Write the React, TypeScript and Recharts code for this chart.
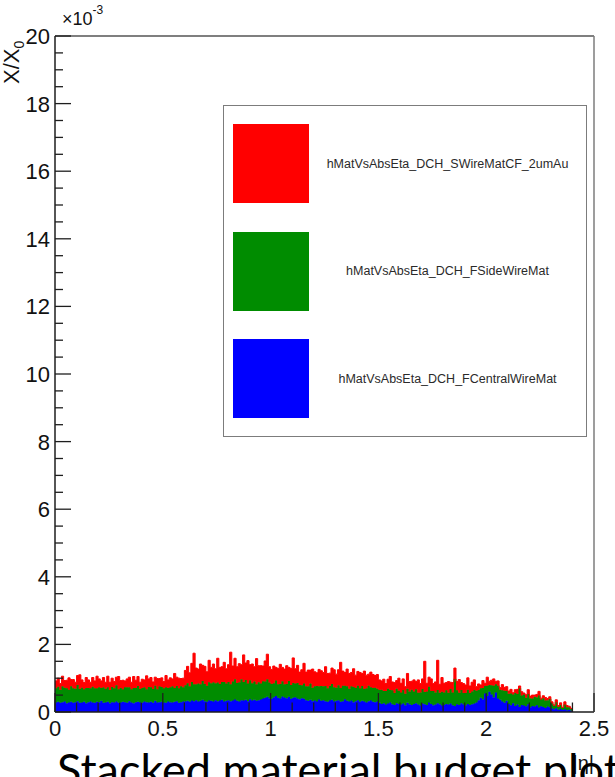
import React from 'react';
import { AreaChart, Area, XAxis, YAxis, Legend } from 'recharts';

// |eta| binning: 240 bins of 0.01 starting at 0
const BIN_WIDTH = 0.01;

// per-bin material, in units of 1e-3 X/X0
const centralWire = [
  0.28, 0.30, 0.27, 0.29, 0.31, 0.26, 0.28, 0.30, 0.27, 0.29,
  0.32, 0.27, 0.28, 0.30, 0.26, 0.29, 0.31, 0.28, 0.27, 0.30,
  0.29, 0.33, 0.27, 0.28, 0.30, 0.26, 0.29, 0.28, 0.31, 0.27,
  0.28, 0.30, 0.29, 0.27, 0.32, 0.28, 0.26, 0.29, 0.30, 0.28,
  0.27, 0.31, 0.29, 0.28, 0.30, 0.27, 0.33, 0.28, 0.29, 0.30,
  0.28, 0.27, 0.31, 0.29, 0.28, 0.30, 0.32, 0.27, 0.29, 0.31,
  0.31, 0.33, 0.30, 0.34, 0.32, 0.35, 0.31, 0.33, 0.36, 0.32,
  0.30, 0.34, 0.33, 0.31, 0.35, 0.32, 0.34, 0.36, 0.31, 0.33,
  0.35, 0.32, 0.34, 0.37, 0.33, 0.31, 0.35, 0.34, 0.36, 0.32,
  0.38, 0.34, 0.36, 0.33, 0.35, 0.37, 0.40, 0.42, 0.45, 0.41,
  0.39, 0.44, 0.47, 0.42, 0.40, 0.46, 0.43, 0.41, 0.45, 0.39,
  0.42, 0.44, 0.40, 0.38, 0.41, 0.39, 0.35, 0.33, 0.36, 0.32,
  0.34, 0.31, 0.37, 0.33, 0.35, 0.32, 0.30, 0.34, 0.36, 0.31,
  0.33, 0.35, 0.30, 0.32, 0.38, 0.33, 0.31, 0.34, 0.29, 0.32,
  0.35, 0.30, 0.33, 0.31, 0.28, 0.32, 0.34, 0.30, 0.29, 0.31,
  0.27, 0.24, 0.26, 0.22, 0.25, 0.28, 0.23, 0.21, 0.26, 0.24,
  0.22, 0.25, 0.20, 0.27, 0.23, 0.21, 0.24, 0.26, 0.22, 0.19,
  0.25, 0.23, 0.21, 0.28, 0.24, 0.20, 0.22, 0.26, 0.23, 0.19,
  0.21, 0.24, 0.22, 0.25, 0.20, 0.18, 0.23, 0.21, 0.26, 0.22,
  0.19, 0.24, 0.21, 0.23, 0.25, 0.28, 0.35, 0.42, 0.38, 0.55,
  0.47, 0.60, 0.52, 0.44, 0.58, 0.40, 0.36, 0.31, 0.27, 0.33,
  0.24, 0.20, 0.26, 0.18, 0.22, 0.15, 0.21, 0.19, 0.17, 0.23,
  0.14, 0.18, 0.16, 0.20, 0.13, 0.17, 0.15, 0.12, 0.16, 0.14,
  0.10, 0.08, 0.11, 0.07, 0.09, 0.06, 0.08, 0.05, 0.07, 0.04,
];

const sideWire = [
  0.42, 0.45, 0.39, 0.47, 0.41, 0.44, 0.38, 0.46, 0.43, 0.40,
  0.48, 0.41, 0.44, 0.37, 0.45, 0.42, 0.39, 0.47, 0.43, 0.40,
  0.44, 0.38, 0.46, 0.41, 0.43, 0.39, 0.45, 0.42, 0.48, 0.40,
  0.43, 0.37, 0.44, 0.46, 0.41, 0.39, 0.45, 0.42, 0.47, 0.40,
  0.44, 0.42, 0.38, 0.46, 0.43, 0.41, 0.45, 0.39, 0.47, 0.44,
  0.42, 0.46, 0.40, 0.44, 0.48, 0.41, 0.45, 0.43, 0.47, 0.42,
  0.48, 0.52, 0.46, 0.55, 0.50, 0.47, 0.53, 0.49, 0.56, 0.51,
  0.48, 0.54, 0.52, 0.57, 0.50, 0.55, 0.49, 0.53, 0.58, 0.51,
  0.54, 0.50, 0.56, 0.60, 0.53, 0.57, 0.62, 0.55, 0.59, 0.52,
  0.56, 0.51, 0.54, 0.49, 0.53, 0.47, 0.51, 0.48, 0.52, 0.46,
  0.44, 0.41, 0.46, 0.40, 0.43, 0.45, 0.39, 0.42, 0.47, 0.41,
  0.44, 0.40, 0.46, 0.42, 0.38, 0.45, 0.41, 0.43, 0.48, 0.40,
  0.42, 0.46, 0.39, 0.44, 0.41, 0.45, 0.40, 0.43, 0.47, 0.42,
  0.39, 0.44, 0.41, 0.46, 0.40, 0.43, 0.38, 0.42, 0.45, 0.39,
  0.43, 0.40, 0.44, 0.37, 0.42, 0.46, 0.39, 0.41, 0.43, 0.38,
  0.38, 0.42, 0.36, 0.40, 0.44, 0.37, 0.41, 0.35, 0.43, 0.39,
  0.36, 0.40, 0.34, 0.42, 0.38, 0.45, 0.37, 0.41, 0.35, 0.39,
  0.43, 0.36, 0.40, 0.47, 0.38, 0.42, 0.36, 0.39, 0.34, 0.41,
  0.37, 0.40, 0.35, 0.43, 0.38, 0.80, 0.41, 0.36, 0.39, 0.34,
  0.37, 0.42, 0.35, 0.38, 0.40, 0.35, 0.30, 0.28, 0.33, 0.22,
  0.31, 0.20, 0.27, 0.34, 0.24, 0.38, 0.30, 0.33, 0.36, 0.29,
  0.30, 0.35, 0.26, 0.38, 0.31, 0.55, 0.28, 0.33, 0.25, 0.30,
  0.27, 0.22, 0.29, 0.24, 0.36, 0.20, 0.26, 0.22, 0.19, 0.25,
  0.15, 0.10, 0.18, 0.08, 0.12, 0.06, 0.14, 0.09, 0.07, 0.05,
];

const sWireCF = [
  0.22, 0.25, 0.18, 0.30, 0.21, 0.24, 0.35, 0.20, 0.26, 0.19,
  0.28, 0.42, 0.23, 0.20, 0.31, 0.24, 0.18, 0.27, 0.22, 0.36,
  0.25, 0.21, 0.29, 0.19, 0.33, 0.23, 0.26, 0.20, 0.24, 0.38,
  0.22, 0.27, 0.19, 0.25, 0.30, 0.21, 0.34, 0.23, 0.28, 0.20,
  0.26, 0.22, 0.40, 0.24, 0.29, 0.21, 0.25, 0.32, 0.23, 0.27,
  0.20, 0.35, 0.24, 0.28, 0.22, 0.43, 0.26, 0.30, 0.23, 0.27,
  0.44, 0.50, 0.40, 0.55, 0.92, 0.48, 0.43, 0.60, 0.46, 0.52,
  0.41, 0.65, 0.47, 0.54, 0.43, 0.72, 0.49, 0.45, 0.58, 0.44,
  0.51, 0.95, 0.46, 0.62, 0.48, 0.55, 0.43, 0.80, 0.50, 0.68,
  0.46, 0.57, 0.44, 0.76, 0.49, 0.53, 0.45, 0.61, 0.74, 0.47,
  0.43, 0.51, 0.39, 0.47, 0.58, 0.41, 0.45, 0.54, 0.40, 0.49,
  0.74, 0.44, 0.52, 0.38, 0.46, 0.60, 0.42, 0.48, 0.40, 0.55,
  0.43, 0.39, 0.50, 0.45, 0.41, 0.57, 0.44, 0.38, 0.47, 0.52,
  0.40, 0.46, 0.76, 0.43, 0.39, 0.51, 0.45, 0.41, 0.54, 0.38,
  0.42, 0.47, 0.37, 0.53, 0.39, 0.34, 0.45, 0.40, 0.36, 0.42,
  0.30, 0.26, 0.35, 0.22, 0.28, 0.40, 0.25, 0.31, 0.24, 0.37,
  0.27, 0.33, 0.21, 0.45, 0.29, 0.25, 0.34, 0.23, 0.38, 0.26,
  0.30, 0.91, 0.24, 0.28, 0.36, 0.22, 0.31, 0.88, 0.25, 0.42,
  0.27, 0.23, 0.33, 0.20, 0.29, 0.32, 0.26, 0.39, 0.22, 0.28,
  0.24, 0.35, 0.21, 0.27, 0.30, 0.12, 0.18, 0.10, 0.22, 0.08,
  0.25, 0.11, 0.15, 0.20, 0.09, 0.14, 0.06, 0.17, 0.10, 0.13,
  0.08, 0.12, 0.05, 0.10, 0.14, 0.07, 0.11, 0.04, 0.09, 0.13,
  0.06, 0.10, 0.05, 0.08, 0.12, 0.04, 0.07, 0.09, 0.05, 0.06,
  0.05, 0.03, 0.07, 0.04, 0.06, 0.02, 0.08, 0.05, 0.03, 0.02,
];

const xTicks = Array.from({ length: 26 }, (_, i) => +(i * 0.1).toFixed(1));
const yTicks = Array.from({ length: 41 }, (_, i) => i * 0.5);

// one row per bin lower edge, plus the closing upper edge of the last bin
const data = centralWire.map((c, i) => ({
  eta: +(i * BIN_WIDTH).toFixed(2),
  central: c,
  side: sideWire[i],
  swire: sWireCF[i],
}));
data.push({ eta: +(centralWire.length * BIN_WIDTH).toFixed(2), central: 0, side: 0, swire: 0 });

const FONT = '"Liberation Sans", Arial, Helvetica, sans-serif';
const AXIS = '#1e1e1e';

function YTick({ x, y, payload }: any) {
  const v = payload.value as number;
  const major = v % 2 === 0;
  return (
    <g>
      <line x1={x} x2={x + (major ? 16 : 8)} y1={y} y2={y} stroke={AXIS} strokeWidth={1.3} />
      {major && (
        <text x={x - 5} y={y + 8} textAnchor="end" fontSize={22} fontFamily={FONT} fill="#111">
          {v}
        </text>
      )}
    </g>
  );
}

function XTick({ x, y, payload }: any) {
  const v = payload.value as number;
  const major = Math.abs(v * 2 - Math.round(v * 2)) < 1e-6;
  return (
    <g>
      <line x1={x} x2={x} y1={y} y2={y - (major ? 19 : 9.5)} stroke={AXIS} strokeWidth={1.3} />
      {major && (
        <text x={x} y={y + 24} textAnchor="middle" fontSize={22} fontFamily={FONT} fill="#111">
          {String(Math.round(v * 10) / 10)}
        </text>
      )}
    </g>
  );
}

function StackLegend({ payload }: any) {
  const rows = [...(payload ?? [])].reverse();
  return (
    <div
      style={{
        width: 364,
        height: 332,
        boxSizing: 'border-box',
        border: '1.5px solid #7c7c7c',
        background: '#fff',
        paddingTop: 18,
      }}
    >
      {rows.map((entry: any) => (
        <div key={entry.value} style={{ display: 'flex', alignItems: 'center', height: 79, marginBottom: 28.5 }}>
          <div style={{ width: 76, height: 79, marginLeft: 9, background: entry.color }} />
          <div style={{ flex: 1, textAlign: 'center', fontSize: 12.5, color: '#2a2a2a', fontFamily: FONT }}>
            {entry.value}
          </div>
        </div>
      ))}
    </div>
  );
}

export default function App() {
  return (
    <div style={{ position: 'absolute', left: 0, top: 0, width: 615, height: 777, overflow: 'hidden', background: '#fff' }}>
      <AreaChart width={615} height={777} data={data} margin={{ top: 35, right: 20, bottom: 64, left: 54 }}>
        <Area
          type="stepAfter"
          dataKey="central"
          stackId="mat"
          name="hMatVsAbsEta_DCH_FCentralWireMat"
          fill="#0000ff"
          stroke="#0000ff"
          strokeWidth={1}
          fillOpacity={1}
          dot={false}
          activeDot={false}
          isAnimationActive={false}
        />
        <Area
          type="stepAfter"
          dataKey="side"
          stackId="mat"
          name="hMatVsAbsEta_DCH_FSideWireMat"
          fill="#008c00"
          stroke="#008c00"
          strokeWidth={1}
          fillOpacity={1}
          dot={false}
          activeDot={false}
          isAnimationActive={false}
        />
        <Area
          type="stepAfter"
          dataKey="swire"
          stackId="mat"
          name="hMatVsAbsEta_DCH_SWireMatCF_2umAu"
          fill="#ff0000"
          stroke="#ff0000"
          strokeWidth={1}
          fillOpacity={1}
          dot={false}
          activeDot={false}
          isAnimationActive={false}
        />
        <XAxis
          dataKey="eta"
          type="number"
          domain={[0, 2.5]}
          ticks={xTicks}
          interval={0}
          height={1}
          tickSize={0}
          tickMargin={0}
          tickLine={false}
          tick={<XTick />}
          axisLine={{ stroke: AXIS, strokeWidth: 1.5 }}
          allowDataOverflow
        />
        <XAxis
          xAxisId="frameTop"
          orientation="top"
          dataKey="eta"
          type="number"
          domain={[0, 2.5]}
          height={1}
          tick={false}
          tickLine={false}
          axisLine={{ stroke: '#555', strokeWidth: 1.5 }}
        />
        <YAxis
          type="number"
          domain={[0, 20]}
          ticks={yTicks}
          interval={0}
          width={1}
          tickSize={0}
          tickMargin={0}
          tickLine={false}
          tick={<YTick />}
          axisLine={{ stroke: AXIS, strokeWidth: 1.5 }}
          allowDataOverflow
        />
        <YAxis
          yAxisId="frameRight"
          orientation="right"
          type="number"
          domain={[0, 20]}
          width={1}
          tick={false}
          tickLine={false}
          axisLine={{ stroke: '#7c7c7c', strokeWidth: 1.5 }}
        />
        <Legend
          layout="horizontal"
          align="center"
          verticalAlign="middle"
          content={<StackLegend />}
          wrapperStyle={{ left: 223, top: 105, width: 364, height: 332 }}
        />
      </AreaChart>
      <svg width={615} height={777} style={{ position: 'absolute', left: 0, top: 0, pointerEvents: 'none' }}>
        <text x={62} y={25} fontSize={18} fontFamily={FONT} fill="#111">
          ×10<tspan dy={-11} fontSize={12}>-3</tspan>
        </text>
        <text transform="translate(19, 84) rotate(-90)" fontSize={22} fontFamily={FONT} fill="#111">
          X/X<tspan dy={5} fontSize={14}>0</tspan>
        </text>
        <text x={594} y={770} textAnchor="end" fontSize={20} fontFamily={FONT} fill="#111">
          |η|
        </text>
        <text x={57} y={786} fontSize={45} fontFamily="Lato, sans-serif" fill="#000">
          Stacked material budget plot
        </text>
      </svg>
    </div>
  );
}
